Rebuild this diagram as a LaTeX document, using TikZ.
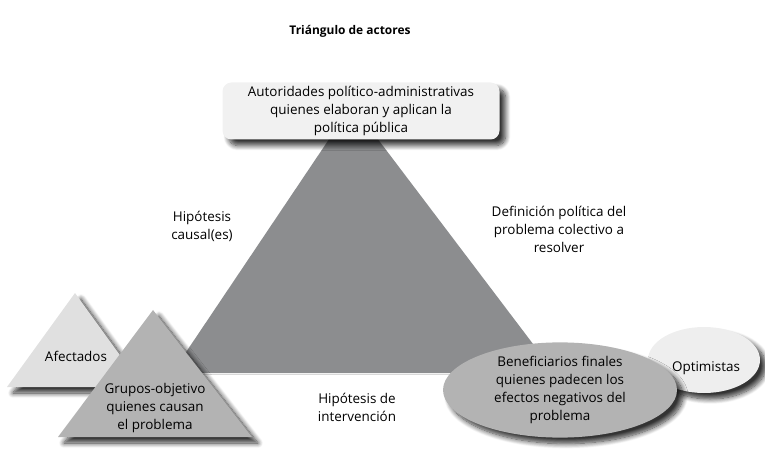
\documentclass[tikz,border=0pt]{standalone}
\usepackage{fontspec}
\setmainfont{Open Sans}
\usetikzlibrary{shapes.geometric,shadows.blur}

\definecolor{bigtri}{HTML}{8C8D8F}
\definecolor{boxgray}{HTML}{F1F1F1}
\definecolor{afecgray}{HTML}{E0E0E0}
\definecolor{midgray}{HTML}{B3B3B3}
\definecolor{optgray}{HTML}{EEEEEE}

\tikzset{
    txt/.style={align=center, font=\fontsize{13.5}{18}\selectfont},
    softshadow/.style={blur shadow={shadow xshift=6bp, shadow yshift=-6bp, shadow blur radius=5bp, shadow blur steps=10, shadow opacity=80}},
    topbox/.style={txt, rectangle, rounded corners=9bp, fill=boxgray, softshadow,
        minimum width=277bp, minimum height=57bp, inner sep=0pt},
    actorell/.style={txt, ellipse, softshadow, inner sep=0pt}
}

\begin{document}
\begin{tikzpicture}[x=1bp,y=-1bp]
    \useasboundingbox (0,0) rectangle (765,459);

    \node[font=\fontsize{12}{14}\selectfont\bfseries] (title) at (350,31) {Triángulo de actores};

    % triangulo central
    \fill[bigtri] (352,105) -- (172,373) -- (555,373) -- cycle;
    \draw[white!85!black, line width=0.6bp] (172,374) -- (555,374);

    \node[topbox] (autoridades) at (361,111)
        {Autoridades político-administrativas\\quienes elaboran y aplican la\\política pública};

    % grupos
    \fill[afecgray, softshadow] (75,293) -- (7,387) -- (143,387) -- cycle;
    \node[txt] (afectados) at (76,356) {Afectados};

    \fill[midgray, softshadow] (153,310) -- (58,437) -- (252,437) -- cycle;
    \node[txt] (grupos) at (155,408) {Grupos-objetivo\\quienes causan\\el problema};

    % beneficiarios
    \node[actorell, fill=optgray, minimum width=112bp, minimum height=66bp] (optim) at (704,360) {};
    \node[txt] (optimtxt) at (706,368) {Optimistas};

    \node[actorell, fill=midgray, minimum width=234bp, minimum height=94bp] (benef) at (560,390)
        {Beneficiarios finales\\quienes padecen los\\efectos negativos del\\problema};

    % relaciones
    \node[txt] (causal) at (202,226) {Hipótesis\\causal(es)};
    \node[txt] (definicion) at (559,229) {Definición política del\\problema colectivo a\\resolver};
    \node[txt] (intervencion) at (357,407) {Hipótesis de\\intervención};
\end{tikzpicture}
\end{document}
